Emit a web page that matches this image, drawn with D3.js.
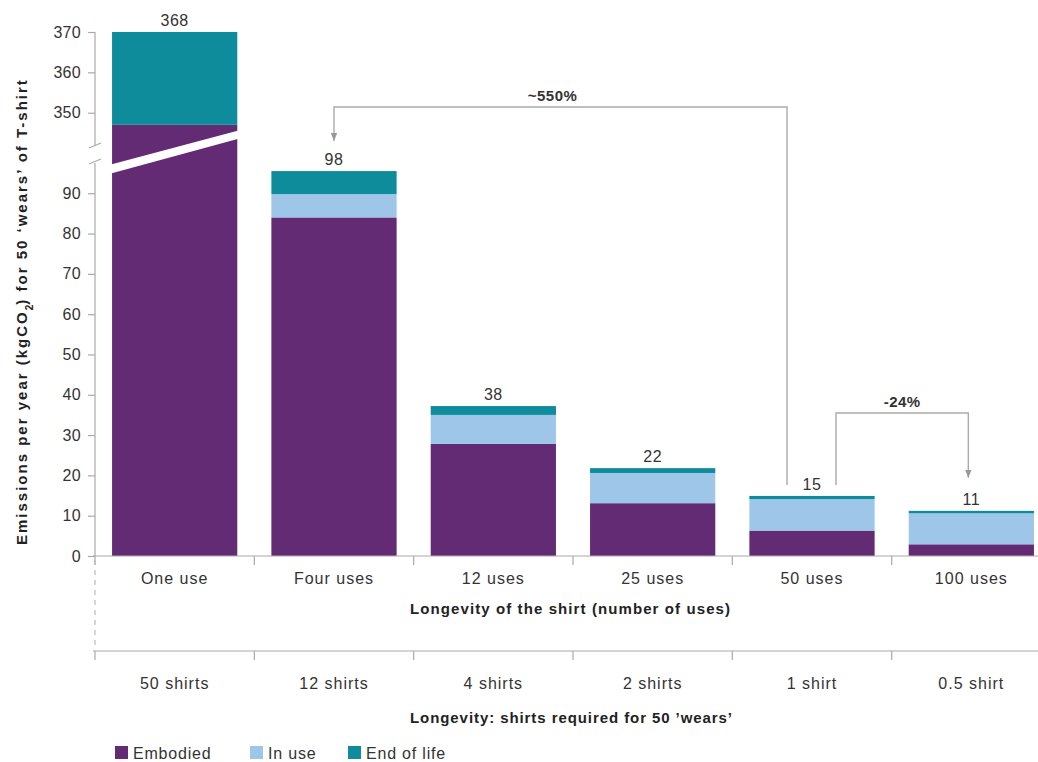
<!DOCTYPE html>
<html><head><meta charset="utf-8">
<script src="https://cdn.jsdelivr.net/npm/d3@7"></script>
<style>body{margin:0;background:#fff;}svg{display:block;font-family:"Liberation Sans",Arial,sans-serif;}</style>
</head><body><svg id="c" width="1038" height="762"></svg>
<script>
const categories = ["One use","Four uses","12 uses","25 uses","50 uses","100 uses"];
const shirtLabels = ["50 shirts","12 shirts","4 shirts","2 shirts","1 shirt","0.5 shirt"];
const embodied = [347, 84, 27.8, 13.1, 6.3, 2.9];
const inUse    = [0, 5.8, 7.2, 7.5, 7.8, 7.7];
const endOfLife= [23, 5.7, 2.2, 1.2, 0.8, 0.6];
const totalLabels = ["368","98","38","22","15","11"];
const lowerTicks = [0,10,20,30,40,50,60,70,80,90];
const upperTicks = [350,360,370];
const seriesNames = ["Embodied","In use","End of life"];
const colors = ["#622b74","#9dc6e8","#0e8c9c"];

const svg = d3.select("#c");
const x = d3.scaleBand().domain(categories).range([95,1051]).paddingInner(0.214).paddingOuter(0.107);
const yLo = d3.scaleLinear().domain([0,98]).range([556,161]);
const yHi = d3.scaleLinear().domain([342,370]).range([145,32]);

const rows = categories.map((c,i)=>({cat:c, Embodied:embodied[i], "In use":inUse[i], "End of life":endOfLife[i]}));
const stack = d3.stack().keys(seriesNames)(rows);

function yv(v){ return v <= 98 ? yLo(v) : (v >= 342 ? yHi(v) : yLo(98) + (yHi(342)-yLo(98))*(v-98)/(342-98)); }

const g = svg.append("g");
stack.forEach((layer,k)=>{
  g.selectAll(null).data(layer).enter().append("rect")
    .attr("x",(d,i)=>x(categories[i]))
    .attr("width",x.bandwidth())
    .attr("y",d=> d[1]>d[0] ? yv(d[1]) : 0)
    .attr("height",d=> d[1]>d[0] ? yv(d[0])-yv(d[1]) : 0)
    .attr("fill",colors[k]);
});
// break stripe on first bar
const bx0 = x(categories[0]) - 3, bx1 = x(categories[0]) + x.bandwidth() + 3;
svg.append("path")
  .attr("d",`M${bx0},${yLo(97)} L${bx1},${yHi(345.7)} L${bx1},${yHi(343.7)} L${bx0},${yLo(94.8)} Z`)
  .attr("fill","#fff");

// Y axes
const axStyle = sel=>{
  sel.selectAll("path,line").attr("stroke","#aaa").attr("stroke-width",1.2);
  sel.selectAll("text").attr("fill","#333").style("font-size","16px").style("letter-spacing","0.3px").attr("x",-14);
};
svg.append("g").attr("transform","translate(95,0)")
  .call(d3.axisLeft(yLo).tickValues(lowerTicks).tickSize(7).tickSizeOuter(0)).call(axStyle)
  .call(s=>s.select(".domain").attr("d",`M0,${yLo(0)}V${yLo(98)+2}`));
svg.append("g").attr("transform","translate(95,0)")
  .call(d3.axisLeft(yHi).tickValues(upperTicks).tickSize(7).tickSizeOuter(0)).call(axStyle)
  .call(s=>s.select(".domain").attr("d",`M0,${yHi(342)}V${yHi(370)}`));
svg.selectAll(".domain").attr("fill","none");
[yHi(342)+1, yLo(98)+1].forEach(yy=>{
  svg.append("line").attr("x1",89).attr("x2",101).attr("y1",yy+2).attr("y2",yy-3)
    .attr("stroke","#aaa").attr("stroke-width",1.3);
});

// X axes
function xAxisAt(yPos){
  const ga = svg.append("g").attr("transform",`translate(0,${yPos})`);
  ga.append("line").attr("x1",93).attr("x2",1038).attr("y1",0).attr("y2",0).attr("stroke","#aaa").attr("stroke-width",1.2);
  ga.selectAll(null).data(categories).enter().append("line")
    .attr("x1",d=>x(d)-x.step()*x.paddingInner()/2).attr("x2",d=>x(d)-x.step()*x.paddingInner()/2)
    .attr("y1",0).attr("y2",9).attr("stroke","#aaa").attr("stroke-width",1.2);
  return ga;
}
xAxisAt(556);
xAxisAt(651);
svg.append("line").attr("x1",95).attr("x2",95).attr("y1",560).attr("y2",650)
  .attr("stroke","#bbb").attr("stroke-width",1.2).attr("stroke-dasharray","5,5");

svg.selectAll(null).data(categories).enter().append("text")
  .attr("x",d=>x(d)+x.bandwidth()/2).attr("y",584).attr("text-anchor","middle")
  .attr("fill","#333").style("font-size","16px").style("letter-spacing","1px").text(d=>d);
svg.selectAll(null).data(shirtLabels).enter().append("text")
  .attr("x",(d,i)=>x(categories[i])+x.bandwidth()/2).attr("y",689).attr("text-anchor","middle")
  .attr("fill","#333").style("font-size","16px").style("letter-spacing","1px").text(d=>d);

svg.append("text").attr("x",410).attr("y",614)
  .attr("fill","#222").style("font-size","15px").style("font-weight","bold")
  .attr("textLength",320).attr("lengthAdjust","spacing")
  .text("Longevity of the shirt (number of uses)");
svg.append("text").attr("x",410).attr("y",723)
  .attr("fill","#222").style("font-size","15px").style("font-weight","bold")
  .attr("textLength",322).attr("lengthAdjust","spacing")
  .text("Longevity: shirts required for 50 \u2019wears\u2019");

// y title
const yt = svg.append("text").attr("transform","translate(27,545) rotate(-90)")
  .attr("fill","#222").style("font-size","15px").style("font-weight","bold");
yt.append("tspan").style("letter-spacing","2px").text("Emissions per year (kgCO");
yt.append("tspan").attr("baseline-shift","sub").style("font-size","10px").text("2");
yt.append("tspan").style("letter-spacing","2px").text(") for 50 \u2018wears\u2019 of T-shirt");

// total labels
const totals = categories.map((c,i)=>embodied[i]+inUse[i]+endOfLife[i]);
svg.selectAll(null).data(totalLabels).enter().append("text")
  .attr("x",(d,i)=>x(categories[i])+x.bandwidth()/2)
  .attr("y",(d,i)=>yv(totals[i])-6)
  .attr("text-anchor","middle").attr("fill","#333").style("font-size","16px").style("letter-spacing","0.5px").text(d=>d);

// annotations
const defs = svg.append("defs");
defs.append("marker").attr("id","arr").attr("viewBox","0 0 10 10").attr("refX",10).attr("refY",5)
  .attr("markerUnits","userSpaceOnUse").attr("markerWidth",8).attr("markerHeight",8).attr("orient","auto")
  .append("path").attr("d","M0,1 L10,5 L0,9 Z").attr("fill","#999");
function bracket(xFrom, yFromBottom, xTo, yToBottom, yTop, label, dx){
  svg.append("path").attr("d",`M${xFrom},${yFromBottom} V${yTop} H${xTo} V${yToBottom}`)
    .attr("fill","none").attr("stroke","#aaa").attr("stroke-width",1.4).attr("marker-end","url(#arr)");
  svg.append("text").attr("x",(xFrom+xTo)/2 + dx).attr("y",yTop-6).attr("text-anchor","middle")
    .attr("fill","#333").style("font-size","15px").style("font-weight","bold").style("letter-spacing","0.5px").text(label);
}
const c5 = x(categories[4])+x.bandwidth()/2;
const c2 = x(categories[1])+x.bandwidth()/2;
const c6 = x(categories[5])+x.bandwidth()/2;
bracket(c5-25, yv(totals[4])-11, c2, yv(totals[1])-30, 107, "~550%", -8);
bracket(c5+24, yv(totals[4])-11, c6-3, yv(totals[5])-33, 413, "-24%", 0);

// legend
const lg = svg.append("g").attr("transform","translate(115,746)");
const lx = [0,135,233];
seriesNames.forEach((n,i)=>{
  lg.append("rect").attr("x",lx[i]).attr("y",0).attr("width",13).attr("height",13).attr("fill",colors[i]);
  lg.append("text").attr("x",lx[i]+18).attr("y",13).attr("fill","#333").style("font-size","16px").style("letter-spacing","0.8px").text(n);
});
</script></body></html>
